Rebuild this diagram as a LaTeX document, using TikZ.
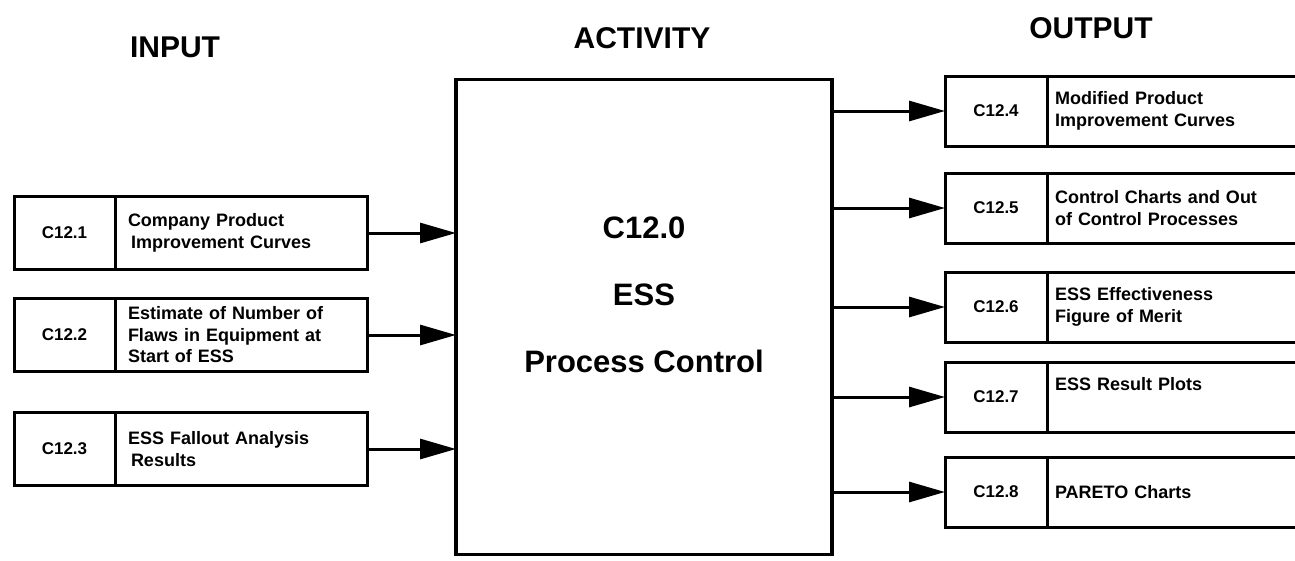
\documentclass[tikz,border=0pt]{standalone}
\usepackage{fontspec}
\setmainfont{Liberation Sans}
\usetikzlibrary{positioning,arrows.meta}
\tikzset{
  cell/.style={draw=black, line width=3pt, inner sep=0pt, outer sep=0pt},
  codein/.style={cell, minimum width=101pt, minimum height=73pt, font=\bfseries\fontsize{17}{20}\selectfont},
  codeout/.style={cell, minimum width=102pt, minimum height=70pt, font=\bfseries\fontsize{17}{20}\selectfont},
  descin/.style={cell, minimum height=73pt, inner xsep=13pt, text width=226pt, align=left, font=\bfseries\fontsize{18}{21.5}\selectfont},
  descout/.style={cell, minimum height=70pt, inner xsep=8pt, text width=257pt, align=left, font=\bfseries\fontsize{18}{21.5}\selectfont},
  actbox/.style={draw=black, line width=3.5pt, minimum width=376pt, minimum height=475pt, outer sep=0pt},
  acttext/.style={align=center, font=\bfseries\fontsize{31}{67}\selectfont},
  head/.style={font=\bfseries\fontsize{30}{36}\selectfont},
  flow/.style={draw=black, line width=3pt, -{Triangle[length=36pt,width=20pt]}},
}
\begin{document}
\begin{tikzpicture}[x=1pt,y=-1pt]
  \useasboundingbox (0,0) rectangle (1295,560);
  \clip (0,0) rectangle (1295,560);

  % column heads
  \node[head] (hin) at (175,47) {INPUT};
  \node[head] (hact) at (642,38) {ACTIVITY};
  \node[head] (hout) at (1091,28) {OUTPUT};

  % activity
  \node[actbox] (act) at (644,317) {};
  \node[acttext] (actlab) at (644,295) {C12.0\\ESS\\Process Control};

  % inputs
  \node[codein] (inc1) at (64.5,233) {C12.1};
  \node[descin, right=0pt of inc1] (ind1) {Company Product\\\hspace*{3pt}Improvement Curves};
  \node[codein] (inc2) at (64.5,335) {C12.2};
  \node[descin, right=0pt of inc2] (ind2) {Estimate of Number of\\Flaws in Equipment at\\Start of ESS};
  \node[codein] (inc3) at (64.5,449) {C12.3};
  \node[descin, right=0pt of inc3] (ind3) {ESS Fallout Analysis\\\hspace*{3pt}Results};

  % outputs
  \node[codeout] (outc4) at (996,111) {C12.4};
  \node[descout, right=0pt of outc4] (outd4) {Modified Product\\Improvement Curves};
  \node[codeout] (outc5) at (996,208) {C12.5};
  \node[descout, right=0pt of outc5] (outd5) {Control Charts and Out\\of Control Processes};
  \node[codeout] (outc6) at (996,307) {C12.6};
  \node[descout, right=0pt of outc6] (outd6) {ESS Effectiveness\\Figure of Merit};
  \node[codeout] (outc7) at (996,397) {C12.7};
  \node[descout, text depth=27pt, right=0pt of outc7] (outd7) {ESS Result Plots};
  \node[codeout] (outc8) at (996,492) {C12.8};
  \node[descout, right=0pt of outc8] (outd8) {PARETO Charts};

  % arrows in and out
  \foreach \i in {1,2,3}
    \draw[flow] (ind\i.east) -- (ind\i.east -| act.west);
  \foreach \i in {4,...,8}
    \draw[flow] (act.east |- outc\i.west) -- (outc\i.west);
\end{tikzpicture}
\end{document}
